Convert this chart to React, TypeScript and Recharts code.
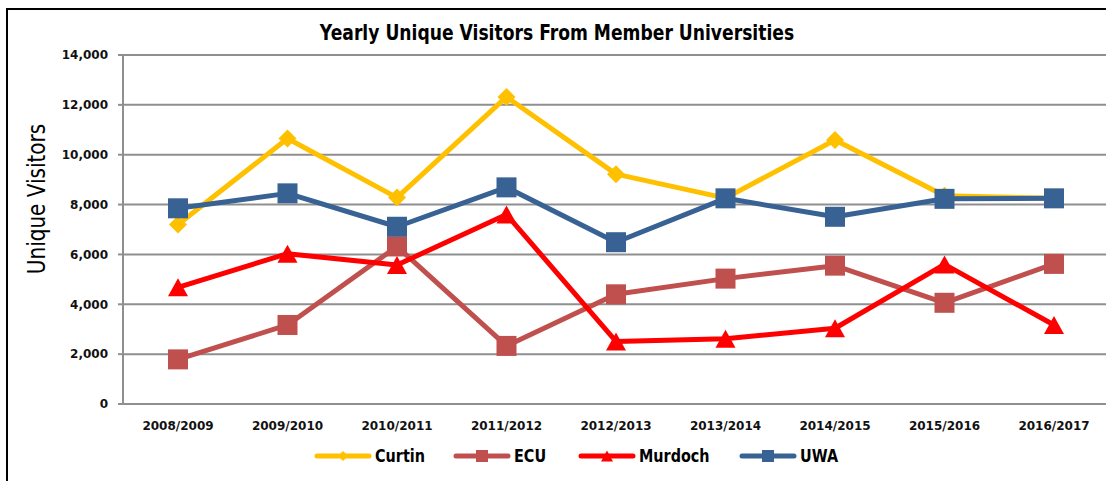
import { CartesianGrid, Line, LineChart, XAxis, YAxis } from "recharts";

const categories = [
  "2008/2009",
  "2009/2010",
  "2010/2011",
  "2011/2012",
  "2012/2013",
  "2013/2014",
  "2014/2015",
  "2015/2016",
  "2016/2017",
];
const curtin = [7200, 10650, 8280, 12320, 9220, 8260, 10590, 8350, 8250];
const ecu = [1790, 3170, 6320, 2330, 4400, 5030, 5550, 4060, 5620];
const murdoch = [4680, 6030, 5580, 7600, 2510, 2620, 3040, 5600, 3170];
const uwa = [7850, 8450, 7110, 8690, 6490, 8250, 7510, 8230, 8250];
const yTicks = [0, 2000, 4000, 6000, 8000, 10000, 12000, 14000];

const data = categories.map((year, i) => ({
  year,
  Curtin: curtin[i],
  ECU: ecu[i],
  Murdoch: murdoch[i],
  UWA: uwa[i],
}));

// no narrow face installed, so glyphs get squeezed with scaleX instead
const NARROW = "'Liberation Sans Narrow', 'DejaVu Sans', sans-serif";
const TICK_FONT = "'DejaVu Sans', sans-serif";

type Marker = "diamond" | "square" | "triangle";

const series: { key: string; color: string; marker: Marker }[] = [
  { key: "Curtin", color: "#FFC000", marker: "diamond" },
  { key: "ECU", color: "#C0504D", marker: "square" },
  { key: "Murdoch", color: "#FF0000", marker: "triangle" },
  { key: "UWA", color: "#386293", marker: "square" },
];
const legendX = [315, 454, 579, 740];

function markerShape(marker: Marker, cx: number, cy: number, size: number, color: string, key?: string | number) {
  const h = size / 2;
  if (marker === "diamond") {
    return <path key={key} d={`M${cx},${cy - h}L${cx + h},${cy}L${cx},${cy + h}L${cx - h},${cy}Z`} fill={color} />;
  }
  if (marker === "square") {
    return <rect key={key} x={cx - h} y={cy - h} width={size} height={size} fill={color} />;
  }
  const th = size * 0.9;
  return (
    <path
      key={key}
      d={`M${cx},${cy - th / 2}L${cx + h},${cy + th / 2}L${cx - h},${cy + th / 2}Z`}
      fill={color}
    />
  );
}

function ChartLegend() {
  return (
    <svg width={1106} height={30} style={{ position: "absolute", left: 0, top: 441 }}>
      {series.map((s, i) => {
        const x = legendX[i];
        return (
          <g key={s.key}>
            <line x1={x + 2} y1={15} x2={x + 54} y2={15} stroke={s.color} strokeWidth={5} strokeLinecap="round" />
            {markerShape(s.marker, x + 28, 15, s.marker === "diamond" ? 10 : 12, s.color)}
            <text
              transform={`translate(${x + 60},15) scale(0.8,1)`}
              dominantBaseline="central"
              fontFamily={NARROW}
              fontWeight="bold"
              fontSize={18}
              fill="#000"
            >
              {s.key}
            </text>
          </g>
        );
      })}
    </svg>
  );
}

export default function App() {
  return (
    <div style={{ position: "relative", width: 1106, height: 481, overflow: "hidden", background: "#fff" }}>
      <style>{"body{margin:0;overflow:hidden}"}</style>
      <div
        style={{
          position: "absolute",
          left: 6,
          top: 8,
          width: 1300,
          height: 600,
          borderLeft: "2px solid #000",
          borderTop: "2px solid #000",
        }}
      />
      <div
        style={{
          position: "absolute",
          left: 0,
          width: 1114,
          top: 20,
          textAlign: "center",
          fontFamily: NARROW,
          fontWeight: "bold",
          fontSize: 22,
          color: "#000",
          transform: "scaleX(0.78)",
          transformOrigin: "center",
        }}
      >
        Yearly Unique Visitors From Member Universities
      </div>
      <div style={{ position: "absolute", left: 0, top: 0 }}>
        <LineChart width={1115} height={481} data={data} margin={{ top: 55, right: 6, bottom: 47, left: 0 }}>
          <CartesianGrid vertical={false} stroke="#8f8f8f" strokeWidth={2} />
          <XAxis
            dataKey="year"
            height={30}
            padding={{ left: 55, right: 55 }}
            tickLine={false}
            tickSize={0}
            tickMargin={17}
            axisLine={{ stroke: "#8f8f8f", strokeWidth: 2 }}
            tick={{ fill: "#111", fontSize: 12, fontWeight: "bold", fontFamily: TICK_FONT }}
            interval={0}
          />
          <YAxis
            width={123}
            domain={[0, 14000]}
            ticks={yTicks}
            tickFormatter={(v: number) => v.toLocaleString("en-US")}
            tickSize={5}
            tickMargin={10}
            tickLine={{ stroke: "#8f8f8f", strokeWidth: 2 }}
            axisLine={{ stroke: "#8f8f8f", strokeWidth: 2 }}
            tick={{ fill: "#111", fontSize: 12, fontWeight: "bold", fontFamily: TICK_FONT }}
            label={{
              content: () => (
                <text
                  transform="translate(36,199) rotate(-90) scale(0.8,1)"
                  textAnchor="middle"
                  dominantBaseline="central"
                  fontFamily={NARROW}
                  fontSize={25}
                  fill="#000"
                >
                  Unique Visitors
                </text>
              ),
            }}
          />
          {series.map((s) => (
            <Line
              key={s.key}
              type="linear"
              dataKey={s.key}
              stroke={s.color}
              strokeWidth={5}
              strokeLinejoin="round"
              activeDot={false}
              isAnimationActive={false}
              dot={(p: any) =>
                markerShape(s.marker, p.cx, p.cy, s.marker === "diamond" ? 18 : 20, s.color, `${s.key}-${p.index}`)
              }
            />
          ))}
        </LineChart>
      </div>
      <ChartLegend />
    </div>
  );
}
